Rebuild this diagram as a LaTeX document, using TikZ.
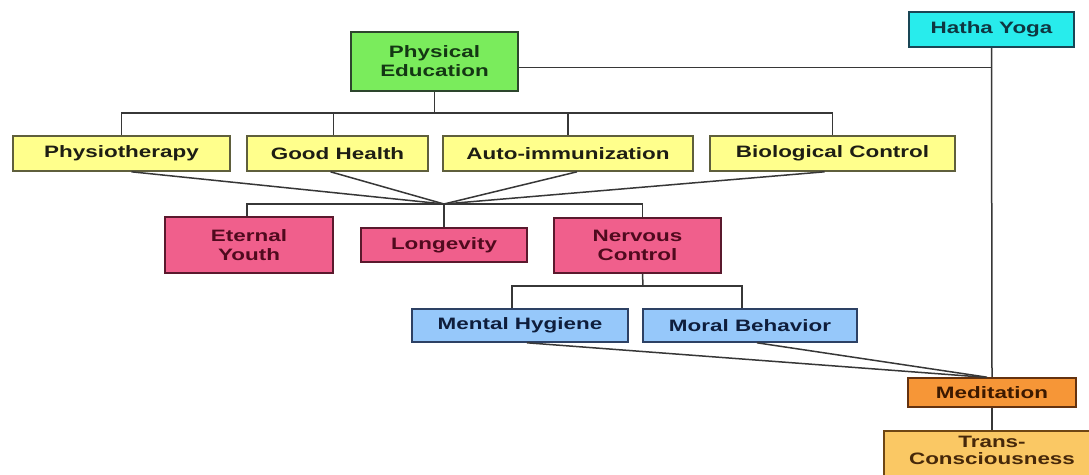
\documentclass[tikz,border=0pt]{standalone}
\usepackage{fontspec}
\setmainfont{Liberation Sans}[FakeStretch=1.36]
\definecolor{linec}{RGB}{55,55,55}
\definecolor{gfill}{RGB}{122,236,92}
\definecolor{gdraw}{RGB}{45,70,45}
\definecolor{gtext}{RGB}{20,55,20}
\definecolor{cfill}{RGB}{40,236,236}
\definecolor{cdraw}{RGB}{25,70,85}
\definecolor{ctext}{RGB}{15,55,65}
\definecolor{yfill}{RGB}{255,255,140}
\definecolor{ydraw}{RGB}{95,95,60}
\definecolor{ytext}{RGB}{30,30,20}
\definecolor{pfill}{RGB}{240,95,140}
\definecolor{pdraw}{RGB}{90,25,45}
\definecolor{ptext}{RGB}{80,10,30}
\definecolor{bfill}{RGB}{150,200,250}
\definecolor{bdraw}{RGB}{45,65,100}
\definecolor{btext}{RGB}{15,30,60}
\definecolor{ofill}{RGB}{246,150,55}
\definecolor{odraw}{RGB}{100,50,15}
\definecolor{otext}{RGB}{60,25,0}
\definecolor{tfill}{RGB}{250,200,100}
\definecolor{tdraw}{RGB}{110,70,20}
\definecolor{ttext}{RGB}{70,40,10}
\begin{document}
\begin{tikzpicture}[x=1pt,y=-1pt,
  box/.style={draw, line width=1.6pt, inner sep=0pt, align=center,
    font=\bfseries\fontsize{16.5}{19}\selectfont},
  green/.style={box, fill=gfill, draw=gdraw, text=gtext},
  cyanbox/.style={box, fill=cfill, draw=cdraw, text=ctext},
  yel/.style={box, fill=yfill, draw=ydraw, text=ytext, minimum height=35pt},
  pink/.style={box, fill=pfill, draw=pdraw, text=ptext},
  blu/.style={box, fill=bfill, draw=bdraw, text=btext, minimum height=33pt},
  ora/.style={box, fill=ofill, draw=odraw, text=otext},
  tra/.style={box, fill=tfill, draw=tdraw, text=ttext,
    font=\bfseries\fontsize{16.5}{17.5}\selectfont},
  link/.style={draw=linec, line width=1.5pt}]
\fill[white] (0,0) rectangle (1089,474);
\useasboundingbox (0,0) rectangle (1089,474);

% nodes
\node[green, minimum width=167pt, minimum height=59pt] (pe) at (434.5,61.5) {Physical\\Education};
\node[cyanbox, minimum width=165pt, minimum height=35pt] (hatha) at (991.5,29.5) {Hatha Yoga};

\node[yel, minimum width=217pt] (physio) at (121.5,153.5) {Physiotherapy};
\node[yel, minimum width=181pt] (good) at (337.5,153.5) {Good Health};
\node[yel, minimum width=250pt] (auto) at (568,153.5) {Auto-immunization};
\node[yel, minimum width=245pt] (bio) at (832.5,153.5) {Biological Control};

\node[pink, minimum width=168pt, minimum height=56pt] (eternal) at (249,245) {Eternal\\Youth};
\node[pink, minimum width=166pt, minimum height=34pt] (long) at (444,245) {Longevity};
\node[pink, minimum width=167pt, minimum height=55pt] (nervous) at (637.5,245.5) {Nervous\\Control};

\node[blu, minimum width=216pt] (mental) at (520,325.5) {Mental Hygiene};
\node[blu, minimum width=214pt] (moral) at (750,325.5) {Moral Behavior};

\node[ora, minimum width=168pt, minimum height=29pt] (med) at (992,392.5) {Meditation};
\node[tra, anchor=north, minimum width=216pt, inner ysep=5pt, text depth=16pt] (trans) at (992,430) {Trans-\\Consciousness};

% connectors
\coordinate (bus1) at (434.5,113);
\draw[link] (pe.south) -- (bus1);
\draw[link] (physio.north) |- (bus1) -| (bio.north);
\draw[link] ([xshift=-4pt]good.north) -- ([xshift=-4pt]good.north |- bus1);
\draw[link] (auto.north) -- (auto.north |- bus1);

\draw[link] ([yshift=-6pt]pe.east) -- ([yshift=-6pt]pe.east -| hatha.south);
\draw[link] (hatha.south) -- (med.north);
\draw[link] (med.south) -- (trans.north);

\coordinate (bus2) at (444,204);
\draw[link] ([xshift=-2pt]eternal.north) |- (bus2) -| ([xshift=5pt]nervous.north);
\draw[link] (long.north) -- (bus2);
\draw[link] ([xshift=10pt]physio.south) -- (bus2);
\draw[link] ([xshift=-7pt]good.south) -- (bus2);
\draw[link] ([xshift=9pt]auto.south) -- (bus2);
\draw[link] ([xshift=-8pt]bio.south) -- (bus2);

\coordinate (bus3) at (643,286);
\draw[link] ([xshift=5pt]nervous.south) -- (bus3);
\draw[link] ([xshift=-8pt]mental.north) |- (bus3) -| ([xshift=-8pt]moral.north);

\draw[link] ([xshift=7pt]mental.south) -- ([xshift=-8pt]med.north);
\draw[link] ([xshift=7pt]moral.south) -- ([xshift=-5pt]med.north);
\end{tikzpicture}
\end{document}
